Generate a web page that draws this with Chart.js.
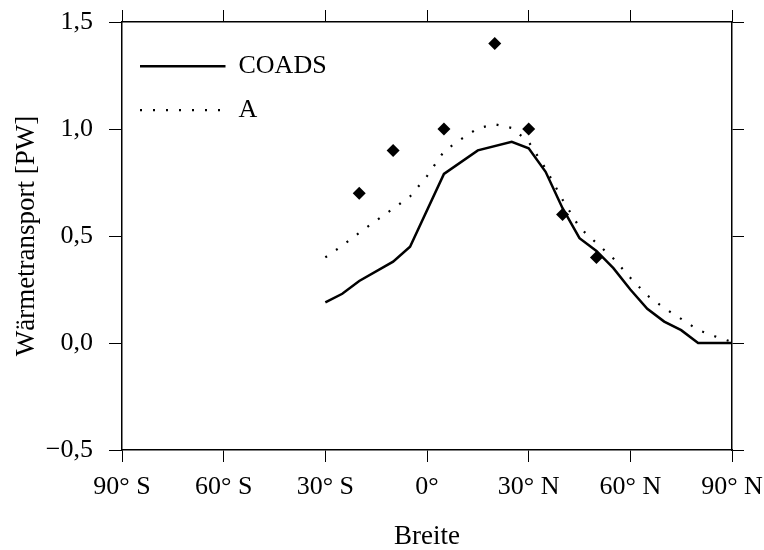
<!DOCTYPE html>
<html lang="de">
<head>
    <meta charset="UTF-8">
    <title>Wärmetransport</title>
    <script src="https://cdn.jsdelivr.net/npm/chart.js"></script>
    <style>
        html, body { margin: 0; padding: 0; background: #fff; }
        #wrap { width: 764px; height: 550px; }
    </style>
</head>
<body>
    <div id="wrap"><canvas id="heatChart" width="764" height="550"></canvas></div>

    <script>
    // values (latitude in degrees, transport in PW)
    const coadsLat = [-30, -25, -20, -10, -5, 5, 15, 25, 30, 35, 40, 45, 50, 55, 60, 65, 70, 75, 80, 90];
    const coadsVal = [0.19, 0.23, 0.29, 0.38, 0.45, 0.79, 0.90, 0.94, 0.91, 0.80, 0.63, 0.49, 0.43, 0.35, 0.25, 0.16, 0.10, 0.06, 0.0, 0.0];

    const aLat = [-30, -25, -20, -15, -10, -5, 0, 5, 10, 15, 20, 25, 30, 35, 40, 45, 50, 55, 60, 65, 70, 75, 80, 85, 90];
    const aVal = [0.40, 0.455, 0.515, 0.572, 0.628, 0.685, 0.78, 0.895, 0.952, 1.003, 1.022, 1.005, 0.94, 0.815, 0.67, 0.54, 0.467, 0.395, 0.305, 0.222, 0.163, 0.113, 0.061, 0.031, 0.005];

    const obsLat = [-20, -10, 5, 20, 30, 40, 50];
    const obsVal = [0.7, 0.9, 1.0, 1.4, 1.0, 0.6, 0.4];

    const xTickLabels = ['90° S', '60° S', '30° S', '0°', '30° N', '60° N', '90° N'];
    const yTickLabels = ['\u22120,5', '0,0', '0,5', '1,0', '1,5'];

    const FONT = '"Liberation Serif", "DejaVu Serif", serif';
    const toPts = (xs, ys) => xs.map((x, i) => ({ x: x, y: ys[i] }));

    // fixed axis boxes, and no extra room for labels that stick out
    function fixSize(w, h) {
        return function (scale) {
            if (w !== null) scale.width = w;
            if (h !== null) scale.height = h;
            scale.paddingTop = scale.paddingBottom = 0;
            scale.paddingLeft = scale.paddingRight = 0;
        };
    }

    const frame = { display: true, color: '#000', width: 1.5 };

    const ctx = document.getElementById('heatChart').getContext('2d');
    const chart = new Chart(ctx, {
        type: 'line',
        data: {
            datasets: [{
                label: 'COADS',
                data: toPts(coadsLat, coadsVal),
                borderColor: '#000',
                backgroundColor: '#000',
                borderWidth: 2.5,
                pointRadius: 0,
                tension: 0
            }, {
                label: 'A',
                data: toPts(aLat, aVal),
                borderColor: '#000',
                backgroundColor: '#000',
                borderWidth: 2.2,
                borderDash: [2, 11],
                borderCapStyle: 'butt',
                pointRadius: 0,
                tension: 0
            }, {
                label: 'obs',
                data: toPts(obsLat, obsVal),
                showLine: false,
                pointStyle: 'rectRot',
                pointRadius: 6.5,
                pointBackgroundColor: '#000',
                pointBorderColor: '#000',
                pointBorderWidth: 0
            }]
        },
        options: {
            responsive: false,
            animation: false,
            layout: { padding: 0, autoPadding: false },
            plugins: {
                tooltip: { enabled: false },
                legend: {
                    position: 'chartArea',
                    align: 'start',
                    // empty title only pushes the entries down
                    title: { display: true, text: '', font: { size: 1 }, padding: { top: 17, bottom: 17 } },
                    labels: {
                        filter: item => item.datasetIndex !== 2,
                        boxWidth: 85.5,
                        boxHeight: 0,
                        padding: 18,
                        color: '#000',
                        font: { family: FONT, size: 26 }
                    }
                }
            },
            scales: {
                x: {
                    type: 'linear',
                    position: 'bottom',
                    min: -90, max: 90,
                    afterFit: fixSize(null, 100),
                    border: frame,
                    grid: { drawOnChartArea: false, tickLength: 12, color: '#000', lineWidth: 1 },
                    ticks: {
                        stepSize: 30,
                        padding: 10,
                        maxRotation: 0,
                        color: '#000',
                        font: { family: FONT, size: 26 },
                        callback: (v, i) => xTickLabels[i]
                    },
                    title: {
                        display: true, text: 'Breite', color: '#000',
                        font: { family: FONT, size: 27, lineHeight: 1 },
                        padding: { top: 0, bottom: 0 }
                    }
                },
                xTop: {
                    type: 'linear',
                    position: 'top',
                    min: -90, max: 90,
                    afterFit: fixSize(null, 22),
                    border: frame,
                    grid: { drawOnChartArea: false, tickLength: 12, color: '#000', lineWidth: 1 },
                    ticks: { stepSize: 30, display: false }
                },
                y: {
                    type: 'linear',
                    position: 'left',
                    min: -0.5, max: 1.5,
                    afterFit: fixSize(122, null),
                    border: frame,
                    grid: { drawOnChartArea: false, tickLength: 13, color: '#000', lineWidth: 1 },
                    ticks: {
                        stepSize: 0.5,
                        padding: 16,
                        color: '#000',
                        font: { family: FONT, size: 26 },
                        callback: (v, i) => yTickLabels[i]
                    },
                    title: {
                        display: true, text: 'Wärmetransport [PW]', color: '#000',
                        font: { family: FONT, size: 27, lineHeight: 1 },
                        padding: { top: 13, bottom: 0 }
                    }
                },
                yRight: {
                    type: 'linear',
                    position: 'right',
                    min: -0.5, max: 1.5,
                    afterFit: fixSize(32, null),
                    border: frame,
                    grid: { drawOnChartArea: false, tickLength: 12, color: '#000', lineWidth: 1 },
                    ticks: { stepSize: 0.5, display: false }
                }
            }
        }
    });
    </script>
</body>
</html>
